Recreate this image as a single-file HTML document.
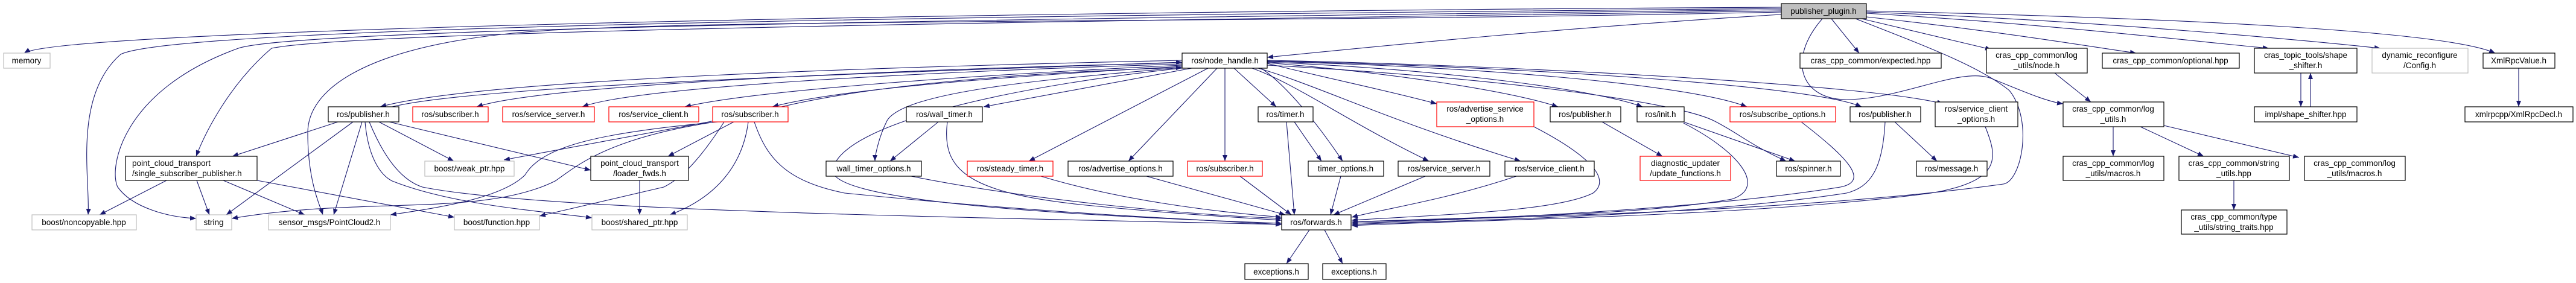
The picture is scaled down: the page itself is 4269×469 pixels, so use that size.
<!DOCTYPE html>
<html><head><meta charset="utf-8"><style>
html,body{margin:0;padding:0;background:#fff;}
svg{display:block;}
text{font-family:"Liberation Sans",sans-serif;font-size:13.5px;fill:#000;}
.n{fill:#fff;stroke:#000;stroke-width:1.2;}
.r{fill:#fff;stroke:#ff0000;stroke-width:1.2;}
.g{fill:#fff;stroke:#bfbfbf;stroke-width:1.2;}
.e{fill:none;stroke:#191970;stroke-width:1.1;marker-end:url(#a);}
</style></head><body>
<svg width="4269" height="469" viewBox="0 0 4269 469" xmlns="http://www.w3.org/2000/svg">
<defs><marker id="a" markerUnits="userSpaceOnUse" markerWidth="11" markerHeight="8" refX="10" refY="4" orient="auto"><path d="M0,0 L10,4 L0,8 z" fill="#191970"/></marker></defs>
<g>
<path class="e" d="M2952,12 C1500,20 100,50 40,88"/>
<path class="e" d="M2952,14 C1800,25 300,40 200,90 C120,160 150,300 146,356"/>
<path class="e" d="M2952,16 C1800,30 500,45 395,80 C200,150 180,280 195,310 C220,345 280,360 325,362"/>
<path class="e" d="M2952,18 C1800,35 600,50 450,80 C380,140 340,220 325,259"/>
<path class="e" d="M2952,20 C2000,40 1100,30 850,55 C600,80 510,150 510,220 C510,300 530,340 535,356"/>
<path class="e" d="M2952,24 C2600,45 2300,75 2100,95"/>
<path class="e" d="M3035,31 L3081,88"/>
<path class="e" d="M3085,31 L3300,82"/>
<path class="e" d="M3093,28 C3300,50 3450,75 3540,88"/>
<path class="e" d="M3093,22 C3400,40 3650,70 3760,80"/>
<path class="e" d="M3093,20 C3500,35 3850,70 3945,80"/>
<path class="e" d="M3093,18 C3600,30 4050,50 4135,88"/>
<path class="e" d="M3020,31 C2960,100 2985,165 3060,165 C3150,165 3250,110 3300,130 C3350,150 3390,168 3419,172"/>
<path class="e" d="M3075,31 C3200,80 3280,110 3330,150 C3370,200 3350,300 3320,305 C3000,350 2500,360 2240,368"/>
<path class="e" d="M1959,100 C1500,110 800,130 630,177"/>
<path class="e" d="M650,177 C800,140 1500,120 1959,103"/>
<path class="e" d="M1959,104 C1500,115 900,140 790,177"/>
<path class="e" d="M1959,106 C1500,120 1050,145 965,177"/>
<path class="e" d="M1959,108 C1600,125 1250,150 1135,177"/>
<path class="e" d="M1959,110 C1700,125 1400,145 1280,177"/>
<path class="e" d="M1295,177 C1450,140 1700,120 1959,112"/>
<path class="e" d="M1975,113 L1630,177"/>
<path class="e" d="M1959,112 C1750,130 1500,150 1470,200 C1455,230 1450,260 1450,267"/>
<path class="e" d="M2002,113 L1705,267"/>
<path class="e" d="M2017,113 L1870,267"/>
<path class="e" d="M2030,113 L2030,267"/>
<path class="e" d="M2045,113 L2115,177"/>
<path class="e" d="M2090,113 C2130,140 2180,200 2225,267"/>
<path class="e" d="M1959,113 C1700,140 1400,200 1380,280 C1370,330 1700,355 2124,370"/>
<path class="e" d="M2100,105 C2200,130 2300,150 2381,172"/>
<path class="e" d="M2100,104 C2300,120 2500,150 2582,177"/>
<path class="e" d="M2100,103 C2400,115 2650,150 2722,177"/>
<path class="e" d="M2100,102 C2450,110 2800,140 2895,177"/>
<path class="e" d="M2100,101 C2500,110 3000,140 3085,177"/>
<path class="e" d="M2100,100 C2500,108 3100,140 3220,172"/>
<path class="e" d="M2075,113 C2150,140 2230,200 2368,267"/>
<path class="e" d="M2085,113 C2180,140 2300,200 2520,267"/>
<path class="e" d="M2100,108 C2500,130 2780,170 2840,200 C2880,220 2900,240 2960,267"/>
<path class="e" d="M560,202 L385,259"/>
<path class="e" d="M585,202 L375,356"/>
<path class="e" d="M600,202 L553,356"/>
<path class="e" d="M628,202 L752,267"/>
<path class="e" d="M645,202 L979,282"/>
<path class="e" d="M605,202 C610,260 630,290 650,300 C750,340 900,350 981,361"/>
<path class="e" d="M612,202 C640,270 670,300 700,310 C900,350 1600,360 2124,372"/>
<path class="e" d="M276,299 L165,356"/>
<path class="e" d="M326,299 L347,356"/>
<path class="e" d="M370,299 L505,356"/>
<path class="e" d="M426,299 L753,360"/>
<path class="e" d="M1216,202 L1107,259"/>
<path class="e" d="M1190,202 C1000,220 900,240 870,290 C830,330 720,345 647,356"/>
<path class="e" d="M1185,202 C1000,230 950,280 920,300 C800,360 600,325 384,362"/>
<path class="e" d="M1185,200 L835,265"/>
<path class="e" d="M1200,202 C1150,280 1120,300 1100,310 L894,358"/>
<path class="e" d="M1240,202 C1230,280 1180,330 1110,356"/>
<path class="e" d="M1250,202 C1270,260 1300,300 1400,320 C1700,350 1900,360 2124,372"/>
<path class="e" d="M1060,299 L1060,356"/>
<path class="e" d="M1555,202 L1475,267"/>
<path class="e" d="M1570,202 C1560,280 1600,320 1800,340 C1950,355 2050,360 2124,365"/>
<path class="e" d="M1510,292 C1700,330 1950,355 2124,362"/>
<path class="e" d="M1725,292 C1850,330 2000,350 2124,360"/>
<path class="e" d="M1900,292 L2130,356"/>
<path class="e" d="M2055,292 L2140,356"/>
<path class="e" d="M2132,202 L2145,356"/>
<path class="e" d="M2145,202 L2190,267"/>
<path class="e" d="M2222,292 L2205,356"/>
<path class="e" d="M2362,292 L2210,356"/>
<path class="e" d="M2513,292 C2400,330 2300,345 2240,360"/>
<path class="e" d="M2542,210 C2600,240 2680,290 2640,320 C2580,350 2400,355 2240,365"/>
<path class="e" d="M2655,202 L2755,259"/>
<path class="e" d="M2790,202 L2975,267"/>
<path class="e" d="M2790,204 C2880,250 2930,310 2870,330 C2700,360 2400,360 2240,368"/>
<path class="e" d="M2985,202 C3060,260 3100,300 3050,310 C2800,350 2400,365 2240,370"/>
<path class="e" d="M3140,202 L3210,267"/>
<path class="e" d="M3124,202 C3120,280 3100,310 3060,320 C2800,360 2400,365 2240,372"/>
<path class="e" d="M3290,210 C3310,260 3320,300 3200,320 C2900,360 2400,365 2240,374"/>
<path class="e" d="M2170,381 L2132,437"/>
<path class="e" d="M2195,381 L2225,437"/>
<path class="e" d="M3405,121 L3465,169"/>
<path class="e" d="M3502,210 L3502,259"/>
<path class="e" d="M3547,210 L3652,259"/>
<path class="e" d="M3586,208 L3810,261"/>
<path class="e" d="M3702,299 L3702,348"/>
<path class="e" d="M3813,121 L3813,177"/>
<path class="e" d="M3829,177 L3829,121"/>
<path class="e" d="M4174,113 L4174,177"/>
</g>
<g text-anchor="middle">
<rect x="2952" y="6" width="141" height="25" fill="#bfbfbf" stroke="#000" stroke-width="1.2"/><text x="3022" y="23">publisher_plugin.h</text>
<rect class="g" x="6" y="88" width="77" height="25"/><text x="44" y="105">memory</text>
<rect class="n" x="1959" y="88" width="141" height="25"/><text x="2030" y="105">ros/node_handle.h</text>
<rect class="n" x="2983" y="88" width="234" height="25"/><text x="3100" y="105">cras_cpp_common/expected.hpp</text>
<rect class="n" x="3292" y="80" width="167" height="41"/><text x="3375" y="96">cras_cpp_common/log</text><text x="3375" y="113">_utils/node.h</text>
<rect class="n" x="3484" y="88" width="227" height="25"/><text x="3597" y="105">cras_cpp_common/optional.hpp</text>
<rect class="n" x="3736" y="80" width="170" height="41"/><text x="3821" y="96">cras_topic_tools/shape</text><text x="3821" y="113">_shifter.h</text>
<rect class="g" x="3931" y="80" width="159" height="41"/><text x="4010" y="96">dynamic_reconfigure</text><text x="4010" y="113">/Config.h</text>
<rect class="n" x="4115" y="88" width="119" height="25"/><text x="4174" y="105">XmlRpcValue.h</text>
<rect class="n" x="544" y="177" width="117" height="25"/><text x="602" y="194">ros/publisher.h</text>
<rect class="r" x="684" y="177" width="125" height="25"/><text x="746" y="194">ros/subscriber.h</text>
<rect class="r" x="833" y="177" width="152" height="25"/><text x="909" y="194">ros/service_server.h</text>
<rect class="r" x="1009" y="177" width="149" height="25"/><text x="1083" y="194">ros/service_client.h</text>
<rect class="r" x="1181" y="177" width="125" height="25"/><text x="1243" y="194">ros/subscriber.h</text>
<rect class="n" x="1502" y="177" width="126" height="25"/><text x="1565" y="194">ros/wall_timer.h</text>
<rect class="n" x="2085" y="177" width="91" height="25"/><text x="2130" y="194">ros/timer.h</text>
<rect class="r" x="2381" y="169" width="161" height="41"/><text x="2461" y="185">ros/advertise_service</text><text x="2461" y="202">_options.h</text>
<rect class="n" x="2569" y="177" width="117" height="25"/><text x="2627" y="194">ros/publisher.h</text>
<rect class="n" x="2713" y="177" width="78" height="25"/><text x="2752" y="194">ros/init.h</text>
<rect class="r" x="2867" y="177" width="175" height="25"/><text x="2954" y="194">ros/subscribe_options.h</text>
<rect class="n" x="3066" y="177" width="117" height="25"/><text x="3124" y="194">ros/publisher.h</text>
<rect class="n" x="3207" y="169" width="137" height="41"/><text x="3275" y="185">ros/service_client</text><text x="3275" y="202">_options.h</text>
<rect class="n" x="3419" y="169" width="167" height="41"/><text x="3502" y="185">cras_cpp_common/log</text><text x="3502" y="202">_utils.h</text>
<rect class="n" x="3736" y="177" width="170" height="25"/><text x="3821" y="194">impl/shape_shifter.hpp</text>
<rect class="n" x="4085" y="177" width="179" height="25"/><text x="4174" y="194">xmlrpcpp/XmlRpcDecl.h</text>
<rect class="n" x="208" y="259" width="218" height="40"/><text x="219" y="275" text-anchor="start">point_cloud_transport</text><text x="219" y="292" text-anchor="start">/single_subscriber_publisher.h</text>
<rect class="g" x="704" y="267" width="148" height="25"/><text x="778" y="284">boost/weak_ptr.hpp</text>
<rect class="n" x="979" y="259" width="162" height="40"/><text x="1060" y="275">point_cloud_transport</text><text x="1060" y="292">/loader_fwds.h</text>
<rect class="n" x="1369" y="267" width="158" height="25"/><text x="1448" y="284">wall_timer_options.h</text>
<rect class="r" x="1603" y="267" width="142" height="25"/><text x="1674" y="284">ros/steady_timer.h</text>
<rect class="n" x="1770" y="267" width="174" height="25"/><text x="1857" y="284">ros/advertise_options.h</text>
<rect class="r" x="1968" y="267" width="124" height="25"/><text x="2030" y="284">ros/subscriber.h</text>
<rect class="n" x="2168" y="267" width="125" height="25"/><text x="2230" y="284">timer_options.h</text>
<rect class="n" x="2317" y="267" width="152" height="25"/><text x="2393" y="284">ros/service_server.h</text>
<rect class="n" x="2494" y="267" width="148" height="25"/><text x="2568" y="284">ros/service_client.h</text>
<rect class="r" x="2718" y="259" width="150" height="40"/><text x="2793" y="275">diagnostic_updater</text><text x="2793" y="292">/update_functions.h</text>
<rect class="n" x="2944" y="267" width="106" height="25"/><text x="2997" y="284">ros/spinner.h</text>
<rect class="n" x="3176" y="267" width="117" height="25"/><text x="3234" y="284">ros/message.h</text>
<rect class="n" x="3419" y="259" width="167" height="40"/><text x="3502" y="275">cras_cpp_common/log</text><text x="3502" y="292">_utils/macros.h</text>
<rect class="n" x="3611" y="259" width="183" height="40"/><text x="3702" y="275">cras_cpp_common/string</text><text x="3702" y="292">_utils.hpp</text>
<rect class="n" x="3819" y="259" width="167" height="40"/><text x="3902" y="275">cras_cpp_common/log</text><text x="3902" y="292">_utils/macros.h</text>
<rect class="g" x="53" y="356" width="173" height="25"/><text x="139" y="373">boost/noncopyable.hpp</text>
<rect class="g" x="325" y="356" width="59" height="25"/><text x="354" y="373">string</text>
<rect class="g" x="445" y="356" width="202" height="25"/><text x="546" y="373">sensor_msgs/PointCloud2.h</text>
<rect class="g" x="753" y="356" width="141" height="25"/><text x="823" y="373">boost/function.hpp</text>
<rect class="g" x="981" y="356" width="158" height="25"/><text x="1060" y="373">boost/shared_ptr.hpp</text>
<rect class="n" x="2124" y="356" width="115" height="25"/><text x="2181" y="373">ros/forwards.h</text>
<rect class="n" x="3615" y="348" width="175" height="40"/><text x="3702" y="364">cras_cpp_common/type</text><text x="3702" y="381">_utils/string_traits.hpp</text>
<rect class="n" x="2063" y="437" width="105" height="26"/><text x="2115" y="455">exceptions.h</text>
<rect class="n" x="2192" y="437" width="105" height="26"/><text x="2244" y="455">exceptions.h</text>
</g>
</svg>
</body></html>
